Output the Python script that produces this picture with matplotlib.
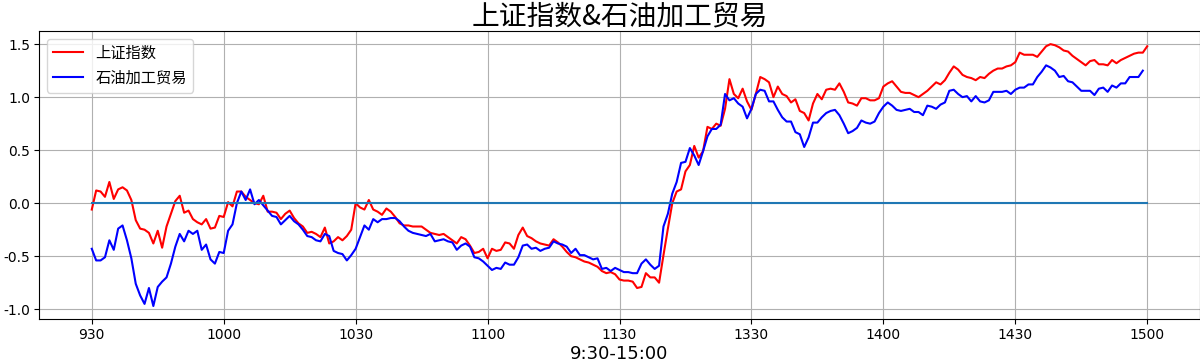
import matplotlib

matplotlib.use("Agg")
import matplotlib.pyplot as plt
import numpy as np

plt.rcParams["font.family"] = ["Noto Sans CJK SC", "DejaVu Sans"]
plt.rcParams["axes.unicode_minus"] = False

TITLE = "上证指数&石油加工贸易"
XLABEL = "9:30-15:00"
INDEX_NAME = "上证指数"
SECTOR_NAME = "石油加工贸易"
TICK_LABELS = ["930", "1000", "1030", "1100", "1130", "1330", "1400", "1430", "1500"]

# minute-by-minute change, %, 9:30-11:30 then 13:00-15:00
index_pct = [
    -0.06, 0.12, 0.11, 0.06, 0.20, 0.04, 0.13, 0.15, 0.12, 0.03,
    -0.16, -0.24, -0.25, -0.28, -0.38, -0.26, -0.42, -0.22, -0.10, 0.02,
    0.07, -0.09, -0.07, -0.15, -0.18, -0.20, -0.15, -0.24, -0.23, -0.12,
    -0.13, 0.01, -0.03, 0.11, 0.11, 0.06, 0.03, 0.00, -0.01, 0.07,
    -0.08, -0.08, -0.09, -0.15, -0.10, -0.07, -0.14, -0.19, -0.22, -0.28,
    -0.27, -0.29, -0.32, -0.23, -0.38, -0.36, -0.32, -0.35, -0.31, -0.25,
    0.00, -0.04, -0.06, 0.03, -0.06, -0.08, -0.11, -0.05, -0.08, -0.13,
    -0.19, -0.21, -0.21, -0.22, -0.22, -0.22, -0.25, -0.28, -0.29, -0.30,
    -0.29, -0.32, -0.35, -0.38, -0.32, -0.34, -0.40, -0.47, -0.46, -0.43,
    -0.52, -0.43, -0.45, -0.44, -0.37, -0.38, -0.43, -0.30, -0.23, -0.31,
    -0.33, -0.36, -0.38, -0.39, -0.40, -0.34, -0.37, -0.41, -0.46, -0.50,
    -0.51, -0.53, -0.55, -0.56, -0.58, -0.60, -0.64, -0.66, -0.65, -0.67,
    -0.72, -0.73, -0.73, -0.74, -0.80, -0.79, -0.66, -0.70, -0.70, -0.75,
    -0.49, -0.24, 0.00, 0.11, 0.13, 0.30, 0.36, 0.54, 0.43, 0.49,
    0.72, 0.70, 0.75, 0.73, 0.89, 1.17, 1.03, 0.99, 1.08, 0.96,
    0.88, 1.03, 1.19, 1.17, 1.14, 1.00, 1.10, 1.03, 1.01, 0.95,
    0.98, 0.87, 0.85, 0.78, 0.94, 1.03, 0.98, 1.07, 1.08, 1.07,
    1.13, 1.05, 0.95, 0.94, 0.92, 0.99, 0.99, 0.97, 0.97, 0.99,
    1.10, 1.13, 1.15, 1.10, 1.05, 1.04, 1.04, 1.02, 1.00, 1.03,
    1.06, 1.10, 1.14, 1.12, 1.16, 1.23, 1.29, 1.26, 1.21, 1.19,
    1.18, 1.16, 1.19, 1.18, 1.22, 1.25, 1.27, 1.27, 1.29, 1.30,
    1.33, 1.42, 1.40, 1.40, 1.40, 1.38, 1.43, 1.48, 1.50, 1.49,
    1.47, 1.44, 1.43, 1.39, 1.36, 1.33, 1.30, 1.34, 1.35, 1.31,
    1.31, 1.30, 1.35, 1.32, 1.35, 1.37, 1.39, 1.41, 1.42, 1.42,
    1.48,
]

sector_pct = [
    -0.43, -0.54, -0.54, -0.51, -0.35, -0.44, -0.24, -0.21, -0.35, -0.52,
    -0.76, -0.87, -0.95, -0.80, -0.97, -0.79, -0.74, -0.70, -0.57, -0.41,
    -0.29, -0.36, -0.26, -0.29, -0.26, -0.44, -0.39, -0.53, -0.57, -0.46,
    -0.47, -0.26, -0.20, 0.00, 0.11, 0.03, 0.13, -0.01, 0.03, -0.02,
    -0.07, -0.12, -0.13, -0.20, -0.16, -0.12, -0.17, -0.20, -0.25, -0.31,
    -0.32, -0.35, -0.36, -0.29, -0.31, -0.45, -0.47, -0.48, -0.54, -0.49,
    -0.43, -0.32, -0.21, -0.25, -0.15, -0.18, -0.15, -0.15, -0.14, -0.14,
    -0.17, -0.22, -0.26, -0.28, -0.29, -0.30, -0.31, -0.29, -0.36, -0.35,
    -0.34, -0.36, -0.37, -0.44, -0.40, -0.38, -0.41, -0.51, -0.52, -0.55,
    -0.59, -0.63, -0.61, -0.62, -0.56, -0.58, -0.58, -0.51, -0.40, -0.39,
    -0.43, -0.42, -0.45, -0.43, -0.42, -0.36, -0.38, -0.39, -0.41, -0.47,
    -0.43, -0.49, -0.49, -0.51, -0.53, -0.52, -0.62, -0.61, -0.64, -0.61,
    -0.63, -0.65, -0.65, -0.66, -0.66, -0.57, -0.53, -0.58, -0.62, -0.59,
    -0.22, -0.10, 0.09, 0.20, 0.38, 0.39, 0.52, 0.45, 0.36, 0.49,
    0.63, 0.70, 0.70, 0.74, 1.03, 0.97, 0.99, 0.94, 0.91, 0.80,
    0.89, 1.03, 1.07, 1.06, 0.96, 0.96, 0.88, 0.81, 0.77, 0.77,
    0.67, 0.65, 0.53, 0.62, 0.76, 0.76, 0.81, 0.85, 0.87, 0.88,
    0.83, 0.75, 0.66, 0.68, 0.71, 0.78, 0.76, 0.75, 0.77, 0.85,
    0.91, 0.95, 0.92, 0.88, 0.87, 0.88, 0.89, 0.86, 0.86, 0.83,
    0.92, 0.91, 0.89, 0.93, 0.95, 1.06, 1.07, 1.03, 1.00, 1.01,
    0.96, 1.01, 0.96, 0.95, 0.97, 1.05, 1.05, 1.05, 1.06, 1.03,
    1.07, 1.09, 1.09, 1.12, 1.12, 1.19, 1.24, 1.30, 1.28, 1.25,
    1.19, 1.20, 1.15, 1.14, 1.10, 1.06, 1.06, 1.06, 1.02, 1.08,
    1.09, 1.05, 1.11, 1.09, 1.13, 1.13, 1.19, 1.19, 1.19, 1.25,
]


def main() -> None:
    x_index = np.arange(len(index_pct))
    x_sector = np.arange(len(sector_pct))

    fig = plt.figure(figsize=(12, 3.61), dpi=100)
    ax = fig.add_axes([0.0325, 0.116, 0.9675, 0.798])

    ax.plot(x_index, index_pct, color="red", linewidth=1.5, label=INDEX_NAME)
    ax.plot(x_sector, sector_pct, color="blue", linewidth=1.5, label=SECTOR_NAME)
    ax.plot(x_index, np.zeros(len(x_index)), linewidth=1.5)

    ax.set_xticks(np.arange(0, len(index_pct), 30))
    ax.set_xticklabels(TICK_LABELS)
    ax.tick_params(labelsize=10, pad=3)
    for lbl in ax.get_xticklabels() + ax.get_yticklabels():
        lbl.set_family("DejaVu Sans")
    ax.grid(True)
    ax.set_title(TITLE, fontsize=20, pad=2)
    ax.set_xlabel(XLABEL, fontsize=13, family="DejaVu Sans", labelpad=2)
    ax.legend(loc="upper left", fontsize=11)

    fig.savefig("out.png")
    plt.close(fig)


if __name__ == "__main__":
    main()
